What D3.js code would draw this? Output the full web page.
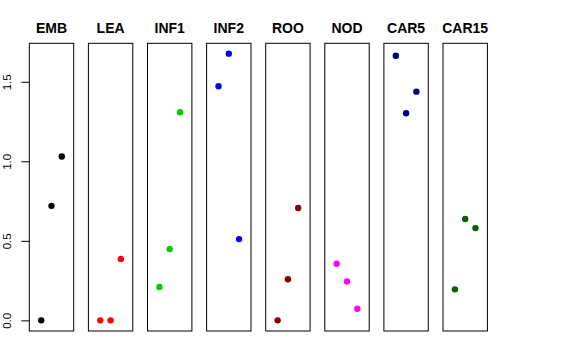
<!DOCTYPE html>
<html>
<head>
<meta charset="utf-8">
<script src="https://cdn.jsdelivr.net/npm/d3@7"></script>
<style>
  body { margin: 0; background: #fff; }
  svg { display: block; font-family: "Liberation Sans", Arial, sans-serif; }
</style>
</head>
<body>
<svg id="chart" width="576" height="360"></svg>
<script>
const groups = ['EMB', 'LEA', 'INF1', 'INF2', 'ROO', 'NOD', 'CAR5', 'CAR15']
const colors = ['#000000', '#ff0000', '#00cd00', '#0000ff', '#8b0000', '#ff00ff', '#000080', '#006400']

// three values per panel, drawn at x = 1, 2, 3
const values =
    [ [0.00, 0.72, 1.03]
    , [0.00, 0.00, 0.386]
    , [0.21, 0.448, 1.308]
    , [1.472, 1.677, 0.511]
    , [0.00, 0.258, 0.706]
    , [0.356, 0.245, 0.073]
    , [1.664, 1.302, 1.438]
    , [0.195, 0.637, 0.58]
    ]
const yTicks = [0, 0.5, 1, 1.5]

const panelLeft = 29.3, panelStep = 59.1, panelW = 44.4
const plotTop = 43.3, plotBottom = 331

const svg = d3.select('#chart')

const y = d3.scaleLinear()
    .domain([-0.067, 1.742])
    .range([plotBottom, plotTop])

const x = d3.scaleLinear()
    .domain([-0.16, 4.16])
    .range([0, panelW])

// y axis on the first panel only
const yAxis = d3.axisLeft(y)
    .tickValues(yTicks)
    .tickFormat(d3.format('.1f'))
    .tickSize(8)

const ax = svg.append('g')
    .attr('transform', 'translate(' + panelLeft + ',0)')
    .call(yAxis)
ax.select('.domain').remove()
ax.selectAll('.tick line').attr('stroke', '#000')
ax.selectAll('.tick text')
    .attr('fill', '#000')
    .attr('font-size', 11.5)
    .attr('font-family', '"Liberation Sans", Arial, sans-serif')
    .attr('text-anchor', 'middle')
    .attr('transform', 'rotate(-90)')
    .attr('x', 0)
    .attr('dy', 0)
    .attr('y', -18)

const panels = svg.selectAll('g.panel')
    .data(groups)
    .enter()
    .append('g')
    .attr('class', 'panel')
    .attr('transform', (d, i) => 'translate(' + (panelLeft + i * panelStep) + ',0)')

panels.append('rect')
    .attr('x', 0)
    .attr('y', plotTop)
    .attr('width', panelW)
    .attr('height', plotBottom - plotTop)
    .attr('fill', 'none')
    .attr('stroke', '#000')
    .attr('stroke-width', 1)

panels.append('text')
    .attr('x', panelW / 2)
    .attr('y', 33)
    .attr('text-anchor', 'middle')
    .attr('font-weight', 'bold')
    .attr('font-size', 14)
    .text(d => d)

panels.selectAll('circle')
    .data((d, i) => values[i].map(v => ({ v: v, c: colors[i] })))
    .enter()
    .append('circle')
    .attr('cx', (d, j) => x(j + 1))
    .attr('cy', d => y(d.v))
    .attr('r', 3.2)
    .attr('fill', d => d.c)
</script>
</body>
</html>
